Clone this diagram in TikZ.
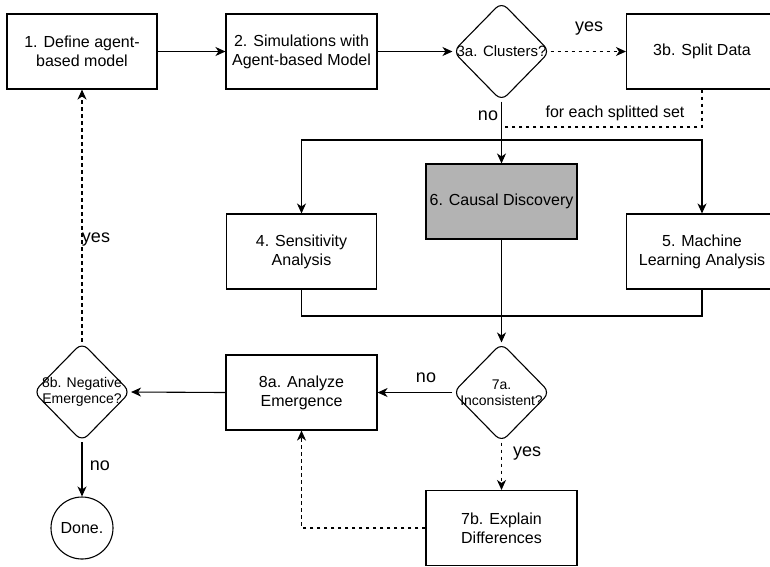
\documentclass[tikz,border=0pt]{standalone}
\usepackage{fontspec}
\setmainfont{Liberation Sans}
\usetikzlibrary{shapes.geometric,arrows.meta,positioning}
\definecolor{grayfill}{HTML}{B3B3B3}
\tikzset{
  boxnode/.style={draw, line width=1.1pt, minimum width=151pt, minimum height=75pt, inner sep=2pt, align=center, font=\fontsize{16}{19}\selectfont},
  dianode/.style={draw, diamond, line width=1.1pt, rounded corners=8pt, minimum width=97pt, minimum height=99pt, inner sep=0pt},
  dtext/.style={align=center, inner sep=0pt, font=\fontsize{14}{16.5}\selectfont},
  conn/.style={line width=1.1pt, -{Stealth[length=10pt,width=9pt,inset=3pt]}},
  plain/.style={line width=1.1pt},
  dashline/.style={dash pattern=on 3.5pt off 3.5pt},
  lbl/.style={font=\fontsize{18}{20}\selectfont, inner sep=0pt},
  lblsmall/.style={font=\fontsize{16}{19}\selectfont, inner sep=0pt},
}
\begin{document}
\begin{tikzpicture}[x=1pt,y=-1pt]
\useasboundingbox[fill=white] (0,0) rectangle (770,566);
% nodes
\node[boxnode, minimum width=150pt] (b1) at (82,51.5) {1. Define agent-\\based model};
\node[boxnode] (b2) at (301.5,51.5) {2. Simulations with\\Agent-based Model};
\node[dianode, label={[dtext, font=\fontsize{15}{17}\selectfont]center:3a. Clusters?}] (c3a) at (501.5,51.5) {};
\node[boxnode] (b3b) at (702,51.5) {3b. Split Data};
\node[boxnode, fill=grayfill] (b6) at (501.5,201.5) {6. Causal Discovery};
\node[boxnode, minimum width=150pt] (b4) at (301.5,251.5) {4. Sensitivity\\Analysis};
\node[boxnode] (b5) at (702,251.5) {5. Machine\\Learning Analysis};
\node[dianode, label={[dtext]center:7a.\\Inconsistent?}] (c7a) at (501.5,392.5) {};
\node[boxnode] (b8a) at (301.5,392.5) {8a. Analyze\\Emergence};
\node[dianode, label={[dtext]center:8b. Negative\\Emergence?}] (c8b) at (82,392) {};
\node[draw, circle, line width=1.1pt, minimum size=62pt, inner sep=0pt, font=\fontsize{16}{19}\selectfont] (done) at (82,528) {Done.};
\node[boxnode] (b7b) at (501.5,528) {7b. Explain\\Differences};
% helper coordinates
\coordinate (split) at (501.5,140);
\coordinate (join) at (501.5,127);
\coordinate (merge) at (501.5,316);
% connectors
\draw[conn] (b1.east) -- (b2.west);
\draw[conn] (b2.east) -- (c3a.west);
\draw[conn, dashline] (c3a.east) -- (b3b.west);
\node[lbl] (lyes1) at (589,29) {yes};
\draw[conn] (c3a.south) -- (b6.north);
\node[lbl] (lno1) at (488,116) {no};
\draw[conn] (split) -| (b4.north);
\draw[conn] (split) -| (b5.north);
\draw[plain, dashline] (b3b.south) |- (join);
\node[lblsmall] (lsplit) at (615,113) {for each splitted set};
\draw[plain] (b4.south) |- (merge);
\draw[plain] (b5.south) |- (merge);
\draw[conn] (b6.south) -- (c7a.north);
\draw[conn] (c7a.west) -- (b8a.east);
\node[lbl] (lno2) at (426,378) {no};
\draw[conn, dashline] (c7a.south) -- (b7b.north);
\node[lbl] (lyes2) at (527,454) {yes};
\draw[conn, dashline] (b7b.west) -| (b8a.south);
\draw[conn] (b8a.west) -- (c8b.east);
\draw[conn, dashline] (c8b.north) -- (b1.south);
\node[lbl] (lyes3) at (96,240) {yes};
\draw[conn] (c8b.south) -- (done.north);
\node[lbl] (lno3) at (100,466) {no};
\end{tikzpicture}
\end{document}
